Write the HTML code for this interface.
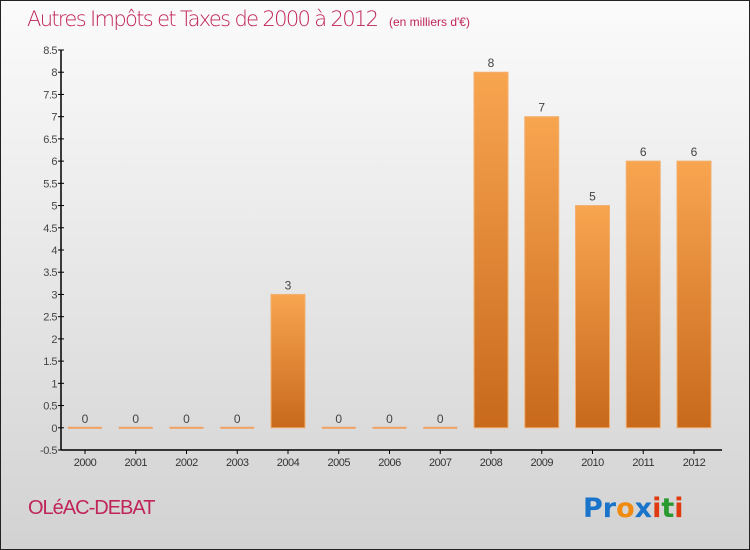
<!DOCTYPE html>
<html><head><meta charset="utf-8"><style>
html,body{margin:0;padding:0;width:750px;height:550px;overflow:hidden;font-family:"Liberation Sans","DejaVu Sans",sans-serif}
</style></head><body>
<svg id="chart" width="750" height="550" xmlns="http://www.w3.org/2000/svg">
<defs>
<linearGradient id="bg" x1="0" y1="0" x2="0" y2="1"><stop offset="0" stop-color="#fbfbfb"/><stop offset="1" stop-color="#d2d2d2"/></linearGradient>
<linearGradient id="bar" x1="0" y1="0" x2="0" y2="1"><stop offset="0" stop-color="#f8a550"/><stop offset="1" stop-color="#c8691c"/></linearGradient>
</defs>
<rect x="0.5" y="0.5" width="749" height="549" fill="url(#bg)" stroke="#222" stroke-width="1"/>
<text x="27" y="26" font-size="21" fill="#c0245a" font-family="'DejaVu Sans',sans-serif" font-weight="200" textLength="352">Autres Impôts et Taxes de 2000 à 2012</text>
<text x="389" y="26" font-size="12" fill="#c0245a">(en milliers d'€)</text>
<g id="yaxis"></g>
<g id="bars"></g>
<g id="xaxis"></g>
<text x="28" y="514" font-size="20" fill="#c0245a" letter-spacing="-1">OLéAC-DEBAT</text>
<text x="583" y="517" font-size="27" font-family="'DejaVu Sans',sans-serif" font-weight="bold"><tspan fill="#1a74c9">Pr</tspan><tspan fill="#f08a10">o</tspan><tspan fill="#1a74c9">x</tspan><tspan fill="#e03a10">i</tspan><tspan fill="#2a9a30">t</tspan><tspan fill="#e03a10">i</tspan></text>
</svg>
<script>
const years=["2000","2001","2002","2003","2004","2005","2006","2007","2008","2009","2010","2011","2012"];
const values=[0,0,0,0,3,0,0,0,8,7,5,6,6];
const yTicks=["-0.5","0","0.5","1","1.5","2","2.5","3","3.5","4","4.5","5","5.5","6","6.5","7","7.5","8","8.5"];
(function(){
const NS="http://www.w3.org/2000/svg";
const x0=61,x1=722,yMin=-0.5,yMax=8.5,yTop=50,yBot=450;
const y=v=>yBot-(v-yMin)/(yMax-yMin)*(yBot-yTop);
const step=50.75,xc=i=>85+i*step;
function mk(t,a,p){const e=document.createElementNS(NS,t);for(const k in a)e.setAttribute(k,a[k]);p.appendChild(e);return e;}
const ya=document.getElementById('yaxis'),xa=document.getElementById('xaxis'),bg=document.getElementById('bars');
const yl=mk('line',{x1:x0,y1:yTop,x2:x0,y2:yBot,stroke:'#000','stroke-width':1.5},ya);

yTicks.forEach(t=>{const v=parseFloat(t),yy=y(v);
 const tk=mk('line',{x1:x0-3,y1:yy,x2:x0+3,y2:yy,stroke:'#000'},ya);
 
 const tx=mk('text',{x:x0-4,y:yy+4,'text-anchor':'end','font-size':11,fill:'#444','letter-spacing':'-0.5'},ya);
 
 
 tx.textContent=t;});
const xl=mk('line',{x1:x0,y1:yBot,x2:x1,y2:yBot,stroke:'#000','stroke-width':1.5},xa);

years.forEach((yr,i)=>{const c=xc(i);
 mk('line',{x1:c,y1:yBot,x2:c,y2:yBot+4,stroke:'#000'},xa);
 const t=mk('text',{x:c,y:yBot+16,'text-anchor':'middle','font-size':11,fill:'#333','letter-spacing':'-0.5'},xa);
 
 
 t.textContent=yr;
 const v=values[i],w=34;
 let r;
 if(v>0){r=mk('rect',{x:c-w/2,y:y(v),width:w,height:y(0)-y(v),fill:'url(#bar)',stroke:'#f2b070','stroke-width':1},bg);}
 else{r=mk('rect',{x:c-w/2,y:y(0)-1,width:w,height:2,fill:'#f0a060'},bg);}
 
 
 const lb=mk('text',{x:c,y:y(v)-5,'text-anchor':'middle','font-size':12,fill:'#444'},bg);
 
 
 lb.textContent=String(v);});
})();
</script>
</body></html>
